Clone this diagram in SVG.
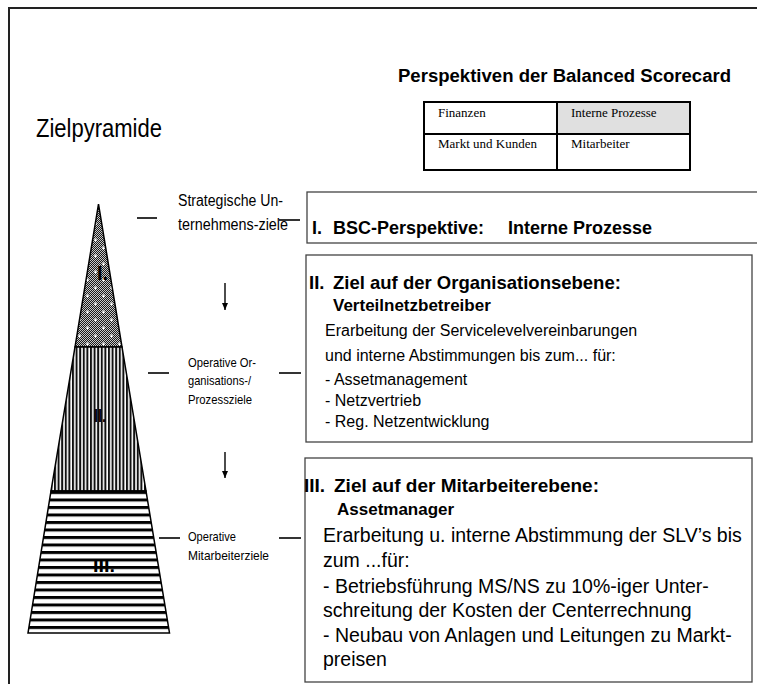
<svg xmlns="http://www.w3.org/2000/svg" width="757" height="684" viewBox="0 0 757 684">
<style>
.sans{font-family:"Liberation Sans",Arial,sans-serif;fill:#000}
.serif{font-family:"Liberation Serif","Times New Roman",serif;fill:#000}
.b{font-weight:bold}
.box{fill:#fff;stroke:#444;stroke-width:1.3}
.dash{stroke:#000;stroke-width:1.6}
.pyr{stroke:#000;stroke-width:1.5}
</style>
<defs>
<pattern id="chk" width="2" height="2" patternUnits="userSpaceOnUse">
<rect width="2" height="2" fill="#c8c8c8"/>
<rect width="1" height="1" fill="#1a1a1a"/>
<rect x="1" y="1" width="1" height="1" fill="#1a1a1a"/>
</pattern>
<pattern id="dots" width="16" height="16" patternUnits="userSpaceOnUse" x="91" y="204">
<rect width="16" height="16" fill="url(#chk)"/>
<path d="M3 4h3M4.5 2.5v3M11 12h3M12.5 10.5v3" stroke="#fff" stroke-width="1.2"/>
</pattern>
<pattern id="vstr" width="3.6" height="10" patternUnits="userSpaceOnUse" x="0">
<rect width="3.6" height="10" fill="#fff"/>
<rect width="2" height="10" fill="#111"/>
</pattern>
<pattern id="hstr" width="10" height="7.5" patternUnits="userSpaceOnUse" y="491">
<rect width="10" height="7.5" fill="#fff"/>
<rect width="10" height="3" fill="#000"/>
</pattern>
<marker id="ah" markerWidth="8" markerHeight="8" refX="7" refY="4" orient="auto" markerUnits="userSpaceOnUse">
<path d="M0,1 L7,4 L0,7 Z" fill="#000"/>
</marker>
</defs>

<rect width="757" height="684" fill="#fff"/>
<g id="frame">
<path d="M9,684 V8 H757" fill="none" stroke="#222" stroke-width="2"/>
</g>

<g id="title-left">
<text class="sans" x="36" y="137" font-size="25" textLength="126" lengthAdjust="spacingAndGlyphs">Zielpyramide</text>
</g>

<g id="bsc-title">
<text class="sans b" x="398" y="82" font-size="18" textLength="333" lengthAdjust="spacingAndGlyphs">Perspektiven der Balanced Scorecard</text>
</g>

<g id="bsc-table">
<rect x="557" y="102" width="133" height="32" fill="#e0e0e0"/>
<rect x="424" y="102" width="266" height="68" fill="none" stroke="#000" stroke-width="2"/>
<path d="M557,102 V170 M424,134 H690" stroke="#000" stroke-width="2"/>
<text class="serif" x="438" y="117" font-size="13">Finanzen</text>
<text class="serif" x="571" y="117" font-size="13">Interne Prozesse</text>
<text class="serif" x="438" y="148" font-size="13">Markt und Kunden</text>
<text class="serif" x="571" y="148" font-size="13">Mitarbeiter</text>
</g>

<g id="pyramid">
<g id="level-1">
<path class="pyr" d="M98.5,204 L122,347 L75,347 Z" fill="url(#dots)"/>
<text class="sans b" x="97" y="280" font-size="20" textLength="11" lengthAdjust="spacingAndGlyphs">I.</text>
</g>
<g id="level-2">
<path class="pyr" d="M75,347 L122,347 L146,491 L51,491 Z" fill="url(#vstr)"/>
<text class="sans b" x="94" y="422" font-size="19" textLength="12" lengthAdjust="spacingAndGlyphs">II.</text>
</g>
<g id="level-3">
<path class="pyr" d="M51,491 L146,491 L169.5,633 L28,633 Z" fill="url(#hstr)"/>
<text class="sans b" x="93" y="572" font-size="19" textLength="22" lengthAdjust="spacingAndGlyphs">III.</text>
</g>
</g>

<g id="label-strategic">
<text class="sans" x="178" y="206" font-size="16" textLength="105" lengthAdjust="spacingAndGlyphs">Strategische Un-</text>
<text class="sans" x="178" y="230" font-size="16" textLength="110" lengthAdjust="spacingAndGlyphs">ternehmens-ziele</text>
</g>
<g id="label-operative-org">
<text class="sans" x="188" y="367" font-size="13.5" textLength="68" lengthAdjust="spacingAndGlyphs">Operative Or-</text>
<text class="sans" x="188" y="385" font-size="13.5" textLength="63" lengthAdjust="spacingAndGlyphs">ganisations-/</text>
<text class="sans" x="188" y="404" font-size="13.5" textLength="64" lengthAdjust="spacingAndGlyphs">Prozessziele</text>
</g>
<g id="label-operative-emp">
<text class="sans" x="188" y="541" font-size="13.5" textLength="48" lengthAdjust="spacingAndGlyphs">Operative</text>
<text class="sans" x="188" y="560" font-size="13.5" textLength="81" lengthAdjust="spacingAndGlyphs">Mitarbeiterziele</text>
</g>

<g id="box-1">
<rect class="box" x="307" y="192" width="470" height="51"/>
<text class="sans b" x="312" y="234" font-size="18">I.</text>
<text class="sans b" x="333" y="234" font-size="18">BSC-Perspektive:</text>
<text class="sans b" x="508" y="234" font-size="18">Interne Prozesse</text>
</g>

<g id="box-2">
<rect class="box" x="306" y="255" width="446" height="187"/>
<text class="sans b" x="309" y="289" font-size="18.5">II.</text>
<text class="sans b" x="333" y="289" font-size="18.5">Ziel auf der Organisationsebene:</text>
<text class="sans b" x="333" y="311" font-size="17">Verteilnetzbetreiber</text>
<text class="sans" x="325" y="336" font-size="16">Erarbeitung der Servicelevelvereinbarungen</text>
<text class="sans" x="325" y="361" font-size="16">und interne Abstimmungen bis zum... für:</text>
<text class="sans" x="325" y="385" font-size="16">- Assetmanagement</text>
<text class="sans" x="325" y="406" font-size="16">- Netzvertrieb</text>
<text class="sans" x="325" y="427" font-size="16">- Reg. Netzentwicklung</text>
</g>

<g id="box-3">
<rect class="box" x="305" y="458" width="447" height="224"/>
<text class="sans b" x="304" y="492" font-size="19">III.</text>
<text class="sans b" x="334" y="492" font-size="19">Ziel auf der Mitarbeiterebene:</text>
<text class="sans b" x="337" y="515" font-size="17">Assetmanager</text>
<text class="sans" x="323" y="542" font-size="19.5">Erarbeitung u. interne Abstimmung der SLV’s bis</text>
<text class="sans" x="323" y="567" font-size="19.5">zum ...für:</text>
<text class="sans" x="323" y="593" font-size="19.5">- Betriebsführung MS/NS zu 10%-iger Unter-</text>
<text class="sans" x="323" y="617" font-size="19.5">schreitung der Kosten der Centerrechnung</text>
<text class="sans" x="323" y="642" font-size="19.5">- Neubau von Anlagen und Leitungen zu Markt-</text>
<text class="sans" x="323" y="666" font-size="19.5">preisen</text>
</g>

<g id="connectors">
<line class="dash" x1="137" y1="218" x2="157" y2="218"/>
<line class="dash" x1="279" y1="220" x2="300" y2="220"/>
<line class="dash" x1="148" y1="373" x2="169" y2="373"/>
<line class="dash" x1="279" y1="373" x2="301" y2="373"/>
<line class="dash" x1="159" y1="538" x2="180" y2="538"/>
<line class="dash" x1="279" y1="538" x2="301" y2="538"/>
<line x1="225" y1="283" x2="225" y2="310" stroke="#000" stroke-width="1.4" marker-end="url(#ah)"/>
<line x1="225" y1="452" x2="225" y2="478" stroke="#000" stroke-width="1.4" marker-end="url(#ah)"/>
</g>
</svg>
